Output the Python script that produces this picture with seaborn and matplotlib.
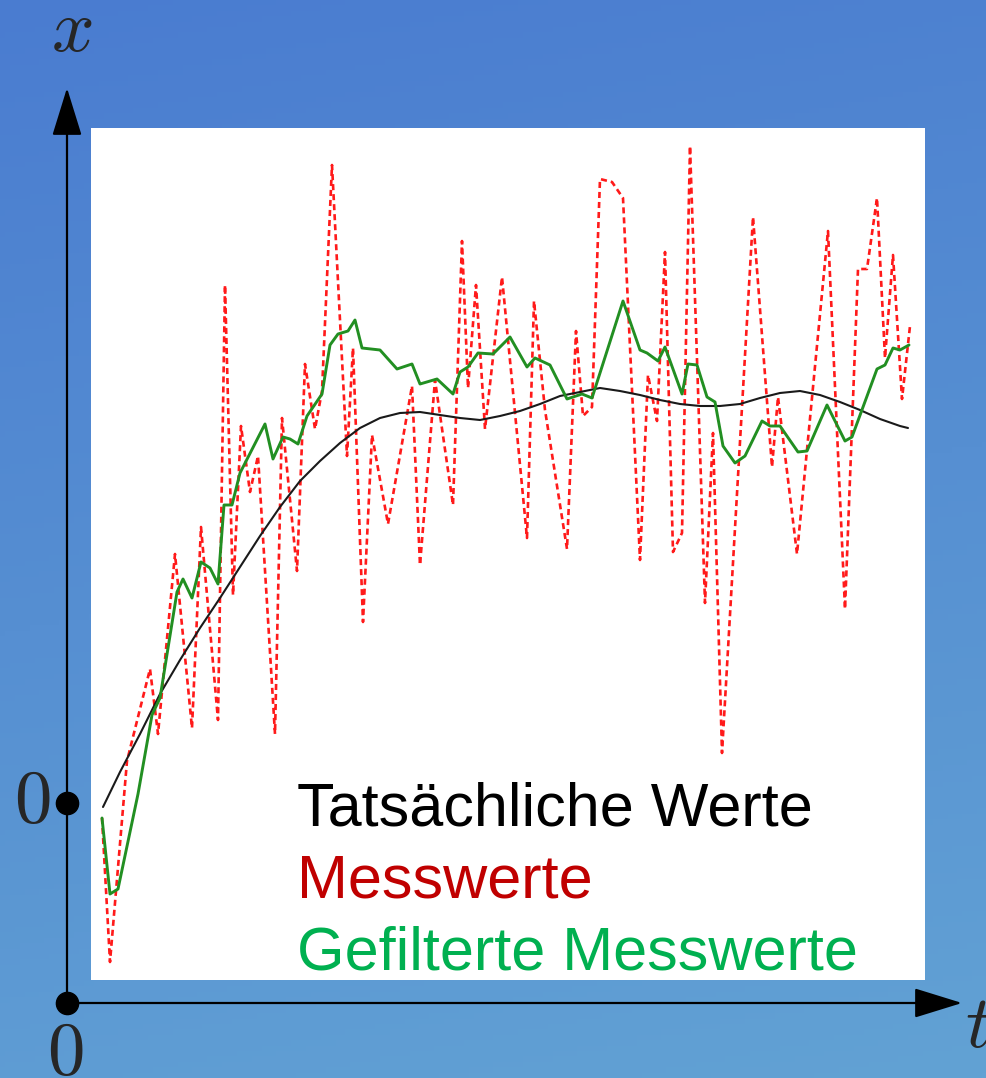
import matplotlib

matplotlib.use("Agg")
import matplotlib.pyplot as plt
from matplotlib.patches import Rectangle
import numpy as np
import pandas as pd
import seaborn as sns

# time axis and values (t: arbitrary units, x: value; x=0 at the "0" tick)
true_t = [3.6, 5.3, 7.3, 9.3, 11.3, 13.3, 15.3, 17.3, 19.3, 21.3, 23.3, 25.3, 27.3, 29.3,
          31.3, 33.3, 35.3, 37.3, 39.3, 41.3, 43.3, 45.3, 47.3, 49.3, 51.3, 53.3, 55.3, 57.3,
          59.3, 61.3, 63.3, 65.3, 67.3, 69.3, 71.3, 73.3, 75.3, 77.3, 79.3, 81.3, 83.3, 84.1]
true_x = [-0.04, 0.31, 0.69, 1.09, 1.43, 1.75, 2.05, 2.36, 2.67, 2.96, 3.22, 3.42, 3.60, 3.75,
          3.85, 3.90, 3.91, 3.88, 3.85, 3.83, 3.87, 3.92, 3.99, 4.07, 4.11, 4.15, 4.12, 4.08,
          4.03, 3.99, 3.97, 3.97, 3.99, 4.05, 4.10, 4.12, 4.08, 4.01, 3.93, 3.84, 3.77, 3.75]

meas_t = [3.5, 4.3, 6.0, 8.3, 9.1, 10.8, 12.5, 13.4, 15.1, 15.8, 16.6, 17.4, 18.3, 19.1,
          20.8, 21.5, 23.0, 23.8, 24.8, 25.5, 26.5, 28.0, 28.6, 29.6, 30.5, 32.1, 34.5, 35.3,
          36.8, 38.6, 39.5, 40.1, 40.9, 41.8, 43.5, 46.0, 46.7, 47.8, 50.0, 50.9, 51.6, 52.5,
          53.3, 54.5, 55.6, 57.3, 58.1, 59.0, 59.8, 60.6, 61.5, 62.3, 63.8, 64.6, 65.5, 68.6,
          70.5, 71.1, 73.0, 76.1, 77.8, 79.1, 80.0, 81.0, 81.8, 82.6, 83.5, 84.3]
meas_x = [-0.15, -1.59, 0.42, 1.34, 0.69, 2.49, 0.75, 2.76, 0.83, 5.18, 2.08, 3.77, 3.11, 3.47,
          0.69, 3.85, 2.32, 4.39, 3.74, 4.12, 6.38, 3.47, 4.55, 1.81, 3.68, 2.79, 4.17, 2.38,
          4.23, 2.98, 5.62, 4.15, 5.18, 3.74, 5.26, 2.65, 5.02, 3.93, 2.54, 4.72, 3.87, 3.96,
          6.24, 6.21, 6.05, 2.43, 4.28, 3.82, 5.51, 2.51, 2.70, 6.57, 2.00, 3.70, 0.50, 5.86,
          3.36, 4.06, 2.49, 5.72, 1.94, 5.34, 5.34, 6.05, 4.45, 5.48, 4.04, 4.77]

filt_t = [3.5, 4.3, 5.1, 7.1, 8.5, 9.3, 11.0, 11.6, 12.5, 13.4, 14.3, 15.1, 15.7, 16.5, 17.3,
          19.8, 20.6, 21.6, 22.3, 23.1, 24.0, 25.5, 26.3, 27.1, 28.1, 28.8, 29.5, 31.3, 33.0,
          34.5, 35.3, 37.0, 38.6, 39.3, 40.1, 41.1, 42.6, 44.3, 46.0, 46.8, 48.3, 50.0, 51.5,
          52.5, 55.6, 57.3, 58.0, 59.1, 59.8, 61.5, 62.1, 63.0, 64.0, 64.8, 65.6, 66.8, 67.8,
          69.5, 70.3, 71.3, 73.1, 74.0, 76.0, 77.8, 78.5, 81.0, 81.8, 82.6, 83.3, 84.2]
filt_x = [-0.15, -0.91, -0.86, 0.09, 0.88, 1.05, 2.11, 2.24, 2.05, 2.41, 2.35, 2.19, 2.98, 2.98,
          3.30, 3.79, 3.44, 3.66, 3.64, 3.59, 3.87, 4.09, 4.58, 4.69, 4.72, 4.83, 4.55, 4.53,
          4.34, 4.39, 4.19, 4.24, 4.09, 4.31, 4.36, 4.50, 4.49, 4.66, 4.36, 4.45, 4.38, 4.04,
          4.09, 4.05, 5.02, 4.53, 4.50, 4.42, 4.56, 4.09, 4.39, 4.38, 4.06, 4.01, 3.57, 3.40,
          3.47, 3.82, 3.77, 3.77, 3.51, 3.52, 3.98, 3.62, 3.66, 4.34, 4.38, 4.55, 4.53, 4.58]

labels = ["Tatsächliche Werte", "Messwerte", "Gefilterte Messwerte"]
label_colors = ["#000000", "#c00000", "#00b050"]

W, H = 987, 1078


def main() -> None:
    sns.set_style("white")
    plt.rcParams["font.family"] = ["Liberation Sans", "DejaVu Sans"]
    plt.rcParams["mathtext.fontset"] = "cm"

    fig = plt.figure(figsize=(W / 100, H / 100), dpi=100)

    # blue backdrop
    bg = fig.add_axes([0, 0, 1, 1])
    bg.axis("off")
    v = np.linspace(0, 1, 200)[:, None]
    u = np.linspace(0, 1, 200)[None, :]
    mix = np.clip(0.85 * v + 0.15 * u, 0, 1)[..., None]
    top = np.array([74, 124, 208]) / 255
    bottom = np.array([98, 162, 212]) / 255
    bg.imshow(top + (bottom - top) * mix, aspect="auto", extent=[0, 1, 0, 1], origin="upper")
    bg.set_xlim(0, 1)
    bg.set_ylim(0, 1)

    ax = fig.add_axes([0, 0, 1, 1])
    ax.set_facecolor("none")
    ax.axis("off")
    # pixel <-> data: t = (px - 67) / 10, x = (803 - py) / 100
    ax.set_xlim(-6.7, (W - 67) / 10)
    ax.set_ylim((803 - H) / 100, 8.03)

    ax.add_patch(Rectangle((2.4, -1.77), 83.4, 8.52, facecolor="white", edgecolor="none", zorder=1))

    true_df = pd.DataFrame({"t": true_t, "x": true_x})
    meas_df = pd.DataFrame({"t": meas_t, "x": meas_x})
    filt_df = pd.DataFrame({"t": filt_t, "x": filt_x})

    sns.lineplot(data=meas_df, x="t", y="x", ax=ax, color="#ff1a1a", linewidth=1.9,
                 linestyle=(0, (2.3, 1.5)), zorder=3)
    sns.lineplot(data=true_df, x="t", y="x", ax=ax, color="#1a1a1a", linewidth=1.5, zorder=4)
    sns.lineplot(data=filt_df, x="t", y="x", ax=ax, color="#228f22", linewidth=2.1, zorder=5)

    # coordinate axes with arrow heads
    y0 = -2.0
    arrow = dict(arrowstyle="-|>,head_length=0.42,head_width=0.13", mutation_scale=72,
                 color="black", lw=1.6, shrinkA=0, shrinkB=0)
    ax.annotate("", xy=(0, 7.15), xytext=(0, y0), arrowprops=arrow, zorder=6)
    ax.annotate("", xy=(89.5, y0), xytext=(0, y0), arrowprops=arrow, zorder=6)
    ax.plot([0, 0], [y0, 0], "o", color="black", markersize=16, zorder=7, clip_on=False)

    ax.text(0.5, 7.72, "$x$", fontsize=54, ha="center", va="center")
    ax.text(91.1, -2.25, "$t$", fontsize=54, ha="center", va="center", clip_on=False)
    ax.text(-3.5, 0.0, "$0$", fontsize=54, ha="center", va="center")
    ax.text(-0.2, -2.52, "$0$", fontsize=54, ha="center", va="center")

    for i, (lab, col) in enumerate(zip(labels, label_colors)):
        ax.text(23.0, -0.22 - 0.72 * i, lab, fontsize=44, color=col, ha="left",
                va="baseline", zorder=8)

    fig.savefig("out.png", dpi=100)
    plt.close(fig)


if __name__ == "__main__":
    main()
